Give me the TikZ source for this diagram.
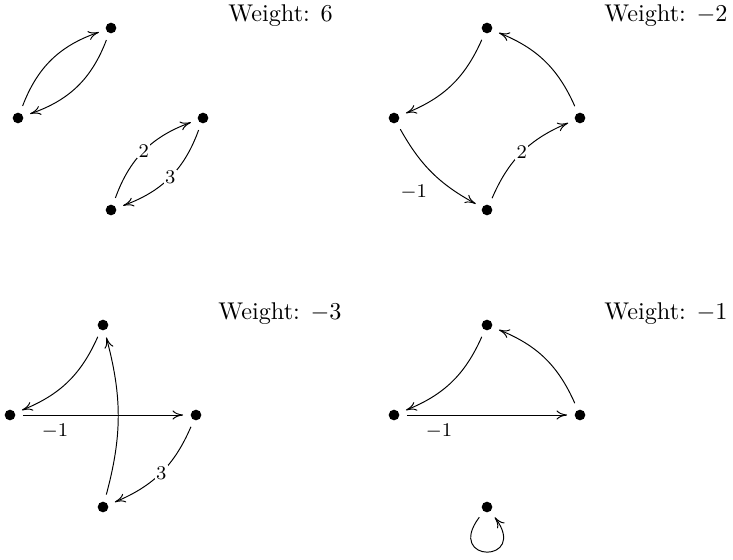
\documentclass[tikz,border=0pt]{standalone}
\usetikzlibrary{arrows.meta}
\begin{document}
\begin{tikzpicture}[x=0.413pt,y=0.413pt]
\tikzset{
  vtx/.style={circle, fill, inner sep=0pt, minimum size=4.4pt, outer sep=3.1pt},
  ar/.style={-{To[length=4.4pt,width=3.8pt]}, line width=0.4pt},
  lab/.style={font=\footnotesize, fill=white, inner sep=0.6pt},
  lbl/.style={font=\footnotesize},
  wt/.style={anchor=base west, inner sep=0pt},
}
\useasboundingbox (0,0) rectangle (733,-559);
% top-left graph
\node[vtx] (a1) at (111,-28) {};
\node[vtx] (a2) at (18,-118) {};
\node[vtx] (a3) at (203,-118) {};
\node[vtx] (a4) at (111,-210) {};
\node[wt] (wa) at (228,-22) {Weight: $6$};
\draw[ar] (a2) to[bend left=25] (a1);
\draw[ar] (a1) to[bend left=25] (a2);
\draw[ar] (a4) to[bend left=25] node[lab] (la1) {$2$} (a3);
\draw[ar] (a3) to[bend left=25] node[lab] (la2) {$3$} (a4);
% top-right graph
\node[vtx] (b1) at (487,-28) {};
\node[vtx] (b2) at (394,-118) {};
\node[vtx] (b3) at (580,-118) {};
\node[vtx] (b4) at (487,-210) {};
\node[wt] (wb) at (604,-22) {Weight: $-2$};
\draw[ar] (b1) to[bend left=22] (b2);
\draw[ar] (b2) to[bend right=16] node[lbl, pos=0.55, below left] (lb1) {$-1$} (b4);
\draw[ar] (b4) to[bend left=22] node[lab] (lb2) {$2$} (b3);
\draw[ar] (b3) to[bend right=22] (b1);
% bottom-left graph
\node[vtx] (c1) at (103,-325) {};
\node[vtx] (c2) at (10,-415) {};
\node[vtx] (c3) at (196,-415) {};
\node[vtx] (c4) at (103,-507) {};
\node[wt] (wc) at (218,-319) {Weight: $-3$};
\draw[ar] (c1) to[bend left=22] (c2);
\draw[ar] (c2) -- node[lbl, pos=0.2, below] (lc1) {$-1$} (c3);
\draw[ar] (c3) to[bend left=22] node[lab] (lc2) {$3$} (c4);
\draw[ar] (c4) to[bend right=15] (c1);
% bottom-right graph
\node[vtx] (d1) at (487,-325) {};
\node[vtx] (d2) at (394,-415) {};
\node[vtx] (d3) at (580,-415) {};
\node[vtx] (d4) at (487,-507) {};
\node[wt] (wd) at (604,-319) {Weight: $-1$};
\draw[ar] (d1) to[bend left=22] (d2);
\draw[ar] (d2) -- node[lbl, pos=0.2, below] (ld1) {$-1$} (d3);
\draw[ar] (d3) to[bend right=22] (d1);
\draw[ar] (d4) edge[loop, out=-127, in=-53, looseness=1, min distance=24pt] (d4);
\end{tikzpicture}
\end{document}
